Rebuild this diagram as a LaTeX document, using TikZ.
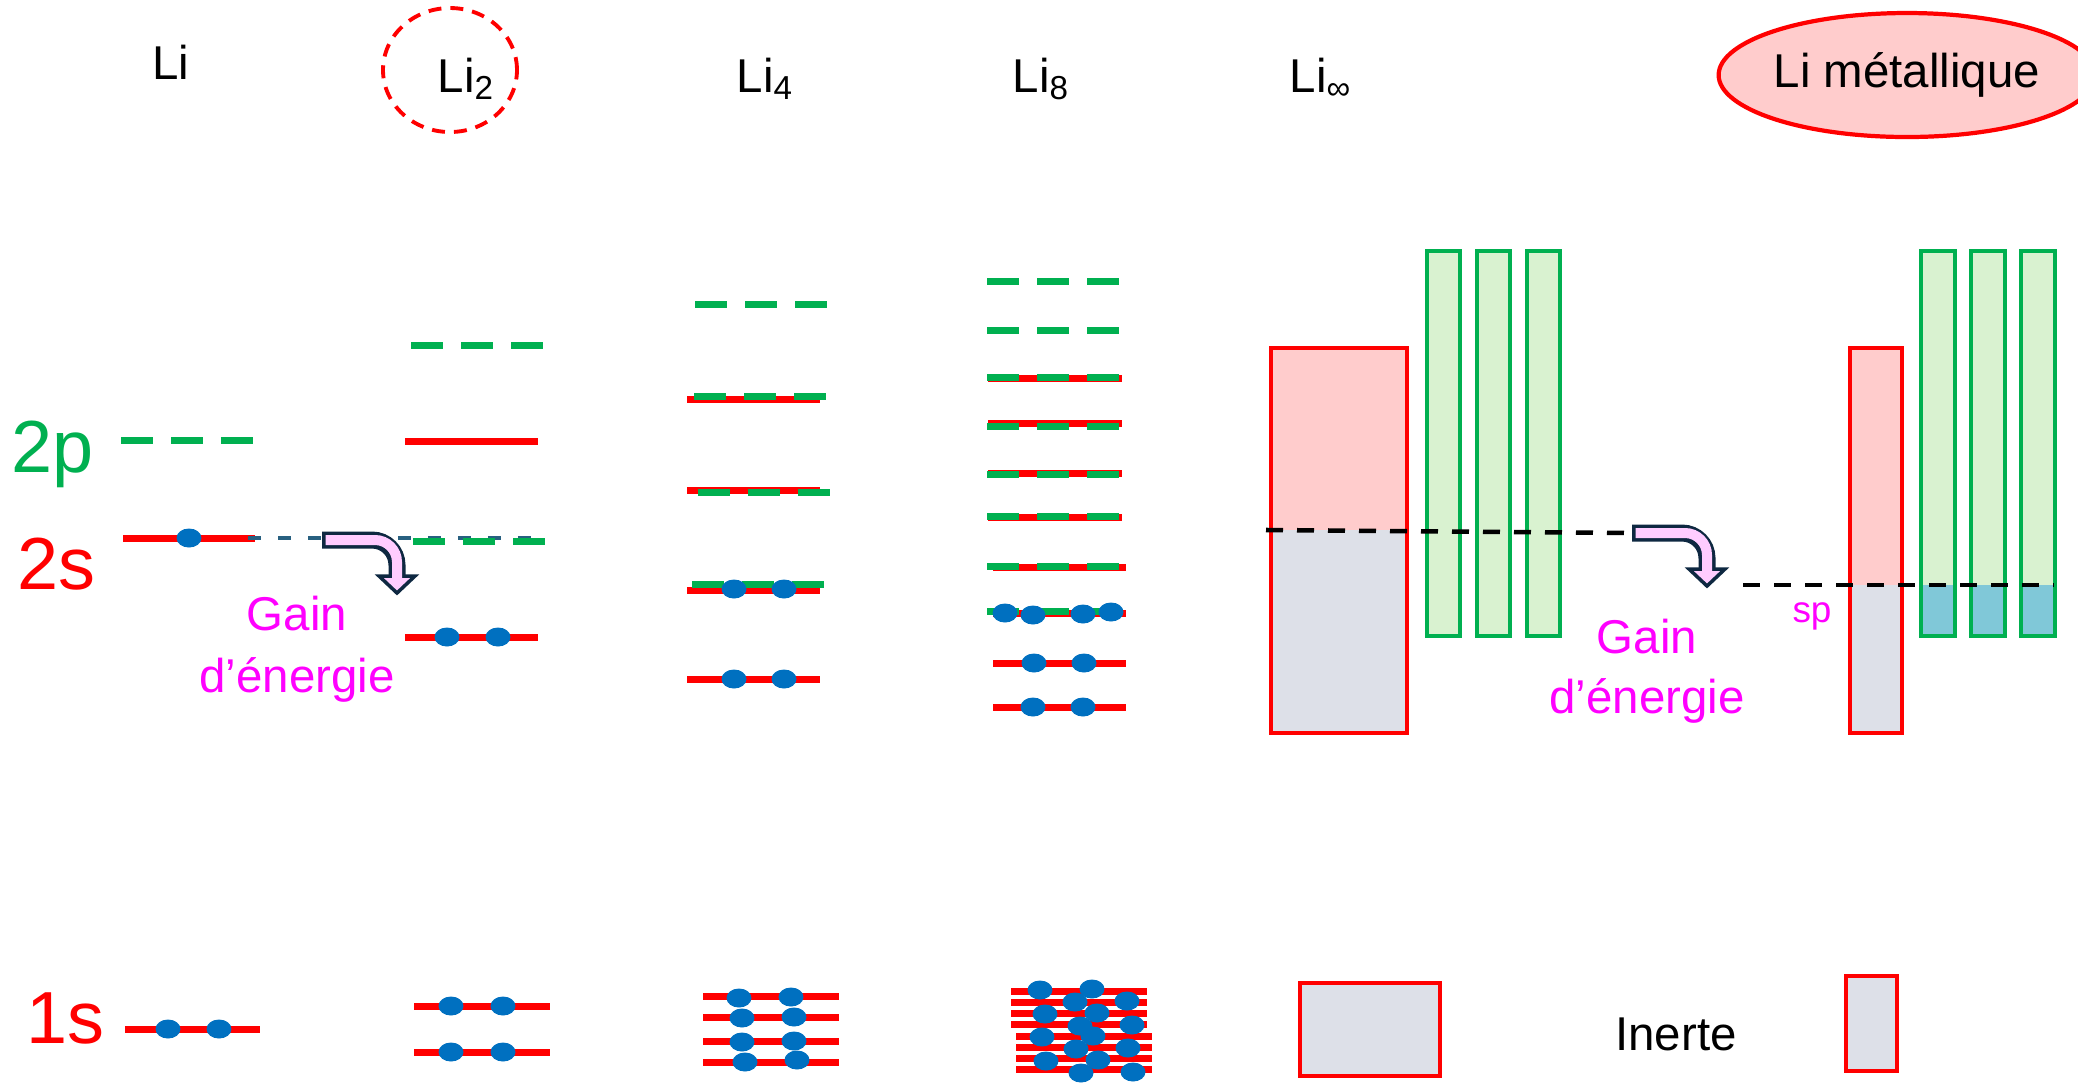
\documentclass[tikz,border=0pt]{standalone}
\usepackage{fontspec}
\setmainfont{Liberation Sans}
\usetikzlibrary{shapes.geometric}

\definecolor{ptgreen}{RGB}{0,176,80}
\definecolor{eblue}{RGB}{0,112,192}
\definecolor{bandpink}{RGB}{255,204,204}
\definecolor{bandgray}{RGB}{221,224,232}
\definecolor{barfill}{RGB}{217,242,208}
\definecolor{barteal}{RGB}{128,200,216}
\definecolor{arrowpink}{RGB}{255,204,255}
\definecolor{arrownavy}{RGB}{14,40,65}
\definecolor{refteal}{RGB}{40,96,128}
\definecolor{gainmag}{RGB}{255,0,255}

\tikzset{
  lab/.style={font=\fontsize{13.5}{16}\selectfont, inner sep=0pt},
  big/.style={font=\fontsize{21}{25}\selectfont, inner sep=0pt},
  gaintext/.style={lab, gainmag},
  lvl/.style={red, line width=2pt},
  orb/.style={ptgreen, line width=2pt, dash pattern=on 3.2mm off 1.8mm},
  refline/.style={refteal, line width=1.2pt, dash pattern=on 1.3mm off 1.7mm},
  fermi/.style={black, line width=1.3pt, dash pattern=on 1.7mm off 1.4mm},
  sband/.style={draw=red, line width=1pt},
  pband/.style={draw=ptgreen, fill=barfill, line width=1pt},
  gain/.pic={
    \draw[arrownavy, line width=1.7mm, rounded corners=2.5mm] (0,0) -- (75,0) -- (75,38);
    \filldraw[fill=arrowpink, draw=arrownavy, line width=0.35mm, line join=miter] (57,36) -- (93,36) -- (75,53) -- cycle;
    \draw[arrowpink, line width=1mm, rounded corners=2.2mm] (3.5,0) -- (75,0) -- (75,39);
  }
}

\begin{document}
\begin{tikzpicture}[x=0.1mm, y=-0.1mm]
\useasboundingbox (0,0) rectangle (2078,1083);

\node[lab, anchor=base] (li) at (171,79) {Li};
\node[ellipse, draw=red, line width=1.1pt, dash pattern=on 1.3mm off 0.9mm, minimum width=13.4mm, minimum height=12.4mm] (ring) at (450,70) {};
\node[lab, anchor=base west] (li2) at (437,92) {Li\textsubscript{2}};
\node[lab, anchor=base west] (li4) at (736,92) {Li\textsubscript{4}};
\node[lab, anchor=base west] (li8) at (1012,92) {Li\textsubscript{8}};
\node[lab, anchor=base west] (liinf) at (1289,92) {Li\textsubscript{∞}};
\node[ellipse, draw=red, line width=1.2pt, fill=bandpink, minimum width=33.6mm, minimum height=12.4mm, lab] (metal) at (1907,75) {Li métallique};

\node[big, ptgreen, anchor=base west] (l2p) at (11,472) {2p};
\node[big, red, anchor=base west] (l2s) at (17,589) {2s};
\node[big, red, anchor=base west] (l1s) at (26,1043) {1s};

% Li
\draw[orb] (121,440) -- (254,440);
\draw[lvl] (123,538) -- (255,538);
\draw[lvl] (125,1029) -- (260,1029);

\coordinate (s0) at (248,538);
\coordinate (s1) at (537,538);
\draw[refline] (s0) -- (s1);

% Li2
\draw[orb] (411,345) -- (543,345);
\draw[lvl] (405,441) -- (538,441);
\draw[orb] (413,541) -- (546,541);
\draw[lvl] (405,637) -- (538,637);
\foreach \y in {1006,1052} \draw[lvl] (414,\y) -- (550,\y);

% Li4
\draw[orb] (695,304) -- (828,304);
\foreach \r/\g/\gx in {399/396/694, 490/492/698, 590/584/692} {
  \draw[lvl] (687,\r) -- (820,\r);
  \draw[orb] (\gx,\g) -- ++(133,0);
}
\draw[lvl] (687,679) -- (820,679);
\foreach \y in {996,1017,1041,1062} \draw[lvl] (703,\y) -- (839,\y);

% Li8
\foreach \y in {281,330} \draw[orb] (987,\y) -- (1119,\y);
\foreach \r/\g in {378/377, 423/426, 473/474, 517/516} {
  \draw[lvl] (988,\r) -- (1122,\r);
  \draw[orb] (987,\g) -- (1119,\g);
}
\foreach \r/\g in {567/566, 613/611} {
  \draw[lvl] (993,\r) -- (1126,\r);
  \draw[orb] (987,\g) -- (1119,\g);
}
\foreach \y in {663,707} \draw[lvl] (993,\y) -- (1126,\y);
\foreach \y in {991,1002,1013,1024} \draw[lvl] (1011,\y) -- (1147,\y);
\foreach \y in {1036,1047,1058,1069} \draw[lvl] (1016,\y) -- (1152,\y);

% electrons
\foreach \x/\y in {189/538, 168/1029, 219/1029,
    447/637, 498/637, 451/1006, 503/1006, 451/1052, 503/1052,
    734/589, 784/589, 734/679, 784/679,
    739/998, 791/997, 742/1018, 794/1017, 742/1042, 794/1041, 745/1062, 797/1060,
    1005/613, 1033/615, 1083/614, 1111/612, 1034/663, 1084/663, 1033/707, 1083/707,
    1040/990, 1092/989, 1075/1002, 1127/1001, 1045/1014, 1097/1013, 1080/1026, 1132/1025,
    1042/1037, 1093/1036, 1076/1049, 1128/1048, 1046/1061, 1098/1060, 1081/1073, 1133/1072}
  \fill[eblue] (\x,\y) ellipse [x radius=1.25mm, y radius=0.95mm];

% bandes Li infini
\fill[bandpink] (1271,348) rectangle (1407,530);
\fill[bandgray] (1271,530) rectangle (1407,733);
\draw[sband] (1271,348) rectangle (1407,733);
\foreach \x in {1427,1477,1527} \draw[pband] (\x,251) rectangle ++(33,385);
\coordinate (f0) at (1266,530);
\coordinate (f1) at (1632,533);
\draw[fermi] (f0) -- (f1);

% Li metallique
\fill[bandpink] (1850,348) rectangle (1902,585);
\fill[bandgray] (1850,585) rectangle (1902,733);
\draw[sband] (1850,348) rectangle (1902,733);
\foreach \x in {1921,1971,2021} {
  \fill[barfill] (\x,251) rectangle ++(34,334);
  \fill[barteal] (\x,585) rectangle ++(34,51);
  \draw[pband, fill=none] (\x,251) rectangle ++(34,385);
}
\coordinate (f2) at (1743,585);
\coordinate (f3) at (2054,585);
\draw[fermi] (f2) -- (f3);

\filldraw[fill=bandgray, draw=red, line width=1pt] (1300,983) rectangle (1440,1076);
\filldraw[fill=bandgray, draw=red, line width=1pt] (1846,976) rectangle (1897,1071);

\pic at (322,540) {gain};
\pic at (1632,533) {gain};

\node[gaintext, anchor=base] (gain1) at (297,630) {Gain};
\node[gaintext, anchor=base] (ener1) at (297,692) {d’énergie};
\node[gaintext, anchor=base] (gain2) at (1647,653) {Gain};
\node[gaintext, anchor=base] (ener2) at (1647,713) {d’énergie};
\node[gainmag, font=\fontsize{10.5}{12}\selectfont, inner sep=0pt, anchor=base] (sp) at (1812,622) {sp};
\node[lab, anchor=base] (inerte) at (1676,1050) {Inerte};
\end{tikzpicture}
\end{document}
